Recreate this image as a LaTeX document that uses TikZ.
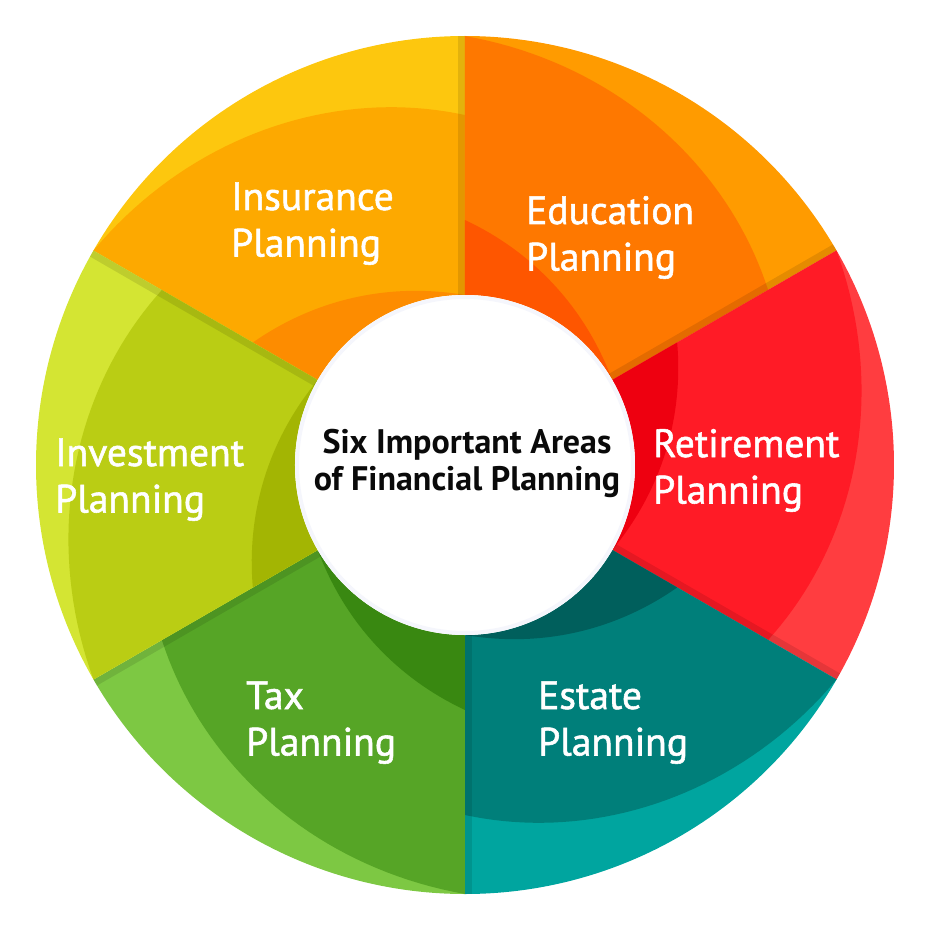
\documentclass[tikz,border=0pt]{standalone}
\usepackage{fontspec}
\setmainfont{PT Sans}
\newfontfamily\lblfont{PT Sans}[FakeBold=1.4]
\usetikzlibrary{calc}
\definecolor{insO}{HTML}{FDC70E}
\definecolor{insM}{HTML}{FDA900}
\definecolor{insD}{HTML}{FD8C00}
\definecolor{eduO}{HTML}{FF9B00}
\definecolor{eduM}{HTML}{FE7800}
\definecolor{eduD}{HTML}{FE5600}
\definecolor{retO}{HTML}{FF3D40}
\definecolor{retM}{HTML}{FF1B26}
\definecolor{retD}{HTML}{EE0010}
\definecolor{estO}{HTML}{00A59F}
\definecolor{estM}{HTML}{007F7A}
\definecolor{estD}{HTML}{005F5C}
\definecolor{taxO}{HTML}{7DC843}
\definecolor{taxM}{HTML}{56A526}
\definecolor{taxD}{HTML}{398811}
\definecolor{invO}{HTML}{D4E533}
\definecolor{invM}{HTML}{BACD14}
\definecolor{invD}{HTML}{A3B503}
\definecolor{halo}{HTML}{F5F6FC}
\definecolor{titlec}{HTML}{0A0A0A}
\begin{document}
\begin{tikzpicture}[x=1pt,y=1pt,
  lbl/.style={text=white, inner sep=0pt, anchor=base west, font=\lblfont\fontsize{39.5}{46.5}\selectfont},
  titlestyle/.style={text=titlec, inner sep=0pt, anchor=base, font=\bfseries\fontsize{34}{37}\selectfont}]
\useasboundingbox (-465,-465) rectangle (465,465);
\def\Ro{429}
\def\Ri{170}
\foreach \a/\oc/\mc/\dc in {90/insO/insM/insD, 30/eduO/eduM/eduD, -30/retO/retM/retD, -90/estO/estM/estD, 210/taxO/taxM/taxD, 150/invO/invM/invD}{
  \pgfmathsetmacro{\b}{\a+60}
  \pgfmathsetmacro{\p}{\a+90}
  \fill[\oc] (\a:\Ri) -- (\a:\Ro) arc[start angle=\a, end angle=\b, radius=\Ro] -- (\b:\Ri) arc[start angle=\b, end angle=\a, radius=\Ri] -- cycle;
  \fill[\mc] (\a:\Ri) -- plot[domain=\a:\b, samples=40] (\x:{350+79*(\x-\a)/60}) -- (\b:\Ri) arc[start angle=\b, end angle=\a, radius=\Ri] -- cycle;
  \fill[\dc] (\a:\Ri) -- plot[domain=\a:\b, samples=40] (\x:{\Ri+75*(0.4*((\x-\a)/60)+0.6*((\x-\a)/60)^2)}) -- (\b:\Ri) arc[start angle=\b, end angle=\a, radius=\Ri] -- cycle;
  \fill[black, opacity=0.1] (\a:\Ri) -- (\a:\Ro) -- ($(\a:\Ro)+(\p:7)$) -- ($(\a:\Ri)+(\p:7)$) -- cycle;
}
\fill[white] (0,0) circle[radius=\Ri];
\draw[halo, line width=4] (0,0) circle[radius=\Ri-2];
\node[lbl] (ins) at (-234,255) {\vtop{\hbox{Insurance}\hbox{Planning}}};
\node[lbl] (edu) at (61,241) {\vtop{\hbox{Education}\hbox{Planning}}};
\node[lbl] (ret) at (188,8) {\vtop{\hbox{Retirement}\hbox{Planning}}};
\node[lbl] (inv) at (-410,-1) {\vtop{\hbox{Investment}\hbox{Planning}}};
\node[lbl] (tax) at (-219,-244) {\vtop{\hbox{Tax}\hbox{Planning}}};
\node[lbl] (est) at (73,-244) {\vtop{\hbox{Estate}\hbox{Planning}}};
\node[titlestyle] (title) at (2,12) {\vtop{\hbox to 0pt{\hss Six Important Areas\hss}\hbox to 0pt{\hss of Financial Planning\hss}}};
\end{tikzpicture}
\end{document}
